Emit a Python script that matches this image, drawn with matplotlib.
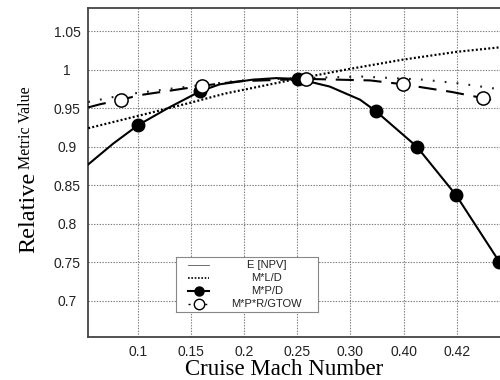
import matplotlib
matplotlib.use("Agg")
import matplotlib.pyplot as plt
import numpy as np
from matplotlib.lines import Line2D

plt.rcParams["lines.scale_dashes"] = False

# Axis ticks: Mach labels sit at equally spaced stations along the x axis
mach_labels = ["0.1", "0.15", "0.2", "0.25", "0.30", "0.40", "0.42"]
mach_station = [1, 2, 3, 4, 5, 6, 7]
y_ticks = [0.7, 0.75, 0.8, 0.85, 0.9, 0.95, 1.0, 1.05]
y_tick_labels = ["0.7", "0.75", "0.8", "0.85", "0.9", "0.95", "1", "1.05"]

# E [NPV]
npv_x = [0.06, 0.79, 1.70, 2.94, 4.05, 5.22, 6.37, 7.06, 7.76]
npv_y = [0.958, 0.968, 0.976, 0.986, 0.989, 0.991, 0.987, 0.982, 0.975]

# M*L/D
mld_x = [0.06, 1.00, 1.98, 2.64, 3.99, 4.99, 5.99, 6.99, 7.82, 7.91]
mld_y = [0.924, 0.940, 0.957, 0.969, 0.988, 1.001, 1.013, 1.023, 1.029, 1.030]

# M*P/D curve and its marked points
mpd_x = [0.06, 0.53, 1.00, 1.56, 2.17, 2.54, 3.16, 3.60, 4.01, 4.61, 5.18, 5.48,
         6.25, 6.99, 7.80]
mpd_y = [0.877, 0.904, 0.928, 0.950, 0.972, 0.981, 0.987, 0.989, 0.988, 0.978,
         0.961, 0.946, 0.900, 0.837, 0.751]
mpd_mark_x = [1.00, 2.17, 4.01, 5.48, 6.25, 6.99, 7.80]
mpd_mark_y = [0.928, 0.972, 0.988, 0.946, 0.900, 0.837, 0.751]

# M*P*R/GTOW curve and its marked points
mpr_x = [0.06, 0.28, 0.68, 1.04, 1.92, 2.20, 2.92, 4.16, 5.37, 5.99, 6.44, 6.91, 7.50, 7.91]
mpr_y = [0.951, 0.955, 0.961, 0.967, 0.976, 0.979, 0.985, 0.988, 0.986, 0.981, 0.976, 0.971, 0.963, 0.957]
mpr_mark_x = [0.68, 2.20, 4.16, 5.99, 7.50]
mpr_mark_y = [0.961, 0.979, 0.988, 0.981, 0.963]

legend_labels = ["E [NPV]", "M*L/D", "M*P/D", "M*P*R/GTOW"]

sans = "Liberation Sans"
serif = "Liberation Serif"

fig = plt.figure(figsize=(5, 3.8), dpi=100)
ax = fig.add_axes([0.176, 0.113, 0.834, 0.866])
ax.set_xlim(0.056, 7.91)
ax.set_ylim(0.653, 1.080)

# grid
ax.set_xticks(mach_station, mach_labels)
ax.set_yticks(y_ticks, y_tick_labels)
ax.grid(True, color="#808080", linestyle=(0, (1.0, 1.0)), linewidth=0.8)
ax.set_axisbelow(True)
ax.tick_params(axis="both", length=0, labelsize=10, colors="#222222")
ax.tick_params(axis="x", pad=6)
ax.tick_params(axis="y", pad=15)
for lab in ax.get_xticklabels() + ax.get_yticklabels():
    lab.set_fontfamily(sans)
for lab in ax.get_yticklabels():
    lab.set_ha("center")

for side in ("left", "bottom", "top"):
    ax.spines[side].set_color("#444444")
    ax.spines[side].set_linewidth(1.3)
ax.spines["right"].set_visible(False)

# series
ax.plot(mld_x, mld_y, color="black", linewidth=1.6, dashes=(1.4, 1.6),
        dash_capstyle="butt", zorder=3)
ax.plot(npv_x, npv_y, color="#222222", linewidth=1.5, dashes=(1.3, 7.3),
        zorder=3)
ax.plot(mpr_x, mpr_y, color="black", linewidth=1.5, dashes=(13, 7), zorder=3)
ax.plot(mpd_x, mpd_y, color="black", linewidth=1.5, zorder=4)
ax.plot(mpd_mark_x, mpd_mark_y, linestyle="none", marker="o", markersize=9,
        markerfacecolor="black", markeredgecolor="black", zorder=5)
ax.plot(mpr_mark_x, mpr_mark_y, linestyle="none", marker="o", markersize=9.5,
        markerfacecolor="white", markeredgecolor="black", markeredgewidth=1.1,
        zorder=6)

# axis titles
ax.set_xlabel("Cruise Mach Number", fontfamily=serif, fontsize=16.5)
ax.xaxis.set_label_coords(0.47, -0.1155)
ax.xaxis.label.set_va("baseline")
fig.text(0.058, 0.442, "Relative", rotation=90, ha="center", va="center",
         fontfamily=serif, fontsize=17.5)
fig.text(0.053, 0.663, "Metric Value", rotation=90, ha="center", va="center",
         fontfamily=serif, fontsize=11.5)

# legend panel
lax = fig.add_axes([0.352, 0.179, 0.284, 0.145])
lax.set_xlim(0, 1)
lax.set_ylim(0, 1)
lax.set_xticks([])
lax.set_yticks([])
for s in lax.spines.values():
    s.set_color("#888888")
    s.set_linewidth(0.8)
rows = np.linspace(0.855, 0.145, len(legend_labels))
hx = [0.085, 0.232]
styles = [
    dict(color="#555555", linewidth=0.6),
    dict(color="black", linewidth=1.2, dashes=(1.2, 1.2)),
    dict(color="black", linewidth=1.5, marker="o", markersize=6.5,
         markevery=[1], markerfacecolor="black"),
    dict(color="black", linewidth=1.0, dashes=(1.5, 2.5), marker="o",
         markersize=7.5, markevery=[1], markerfacecolor="white",
         markeredgewidth=1.0),
]
for yrow, lab, st in zip(rows, legend_labels, styles):
    lax.add_line(Line2D([hx[0], np.mean(hx), hx[1]], [yrow] * 3, **st))
    lax.text(0.64, yrow, lab, ha="center", va="center", fontfamily=sans,
             fontsize=8, color="#222222")

fig.savefig("out.png", dpi=100)
